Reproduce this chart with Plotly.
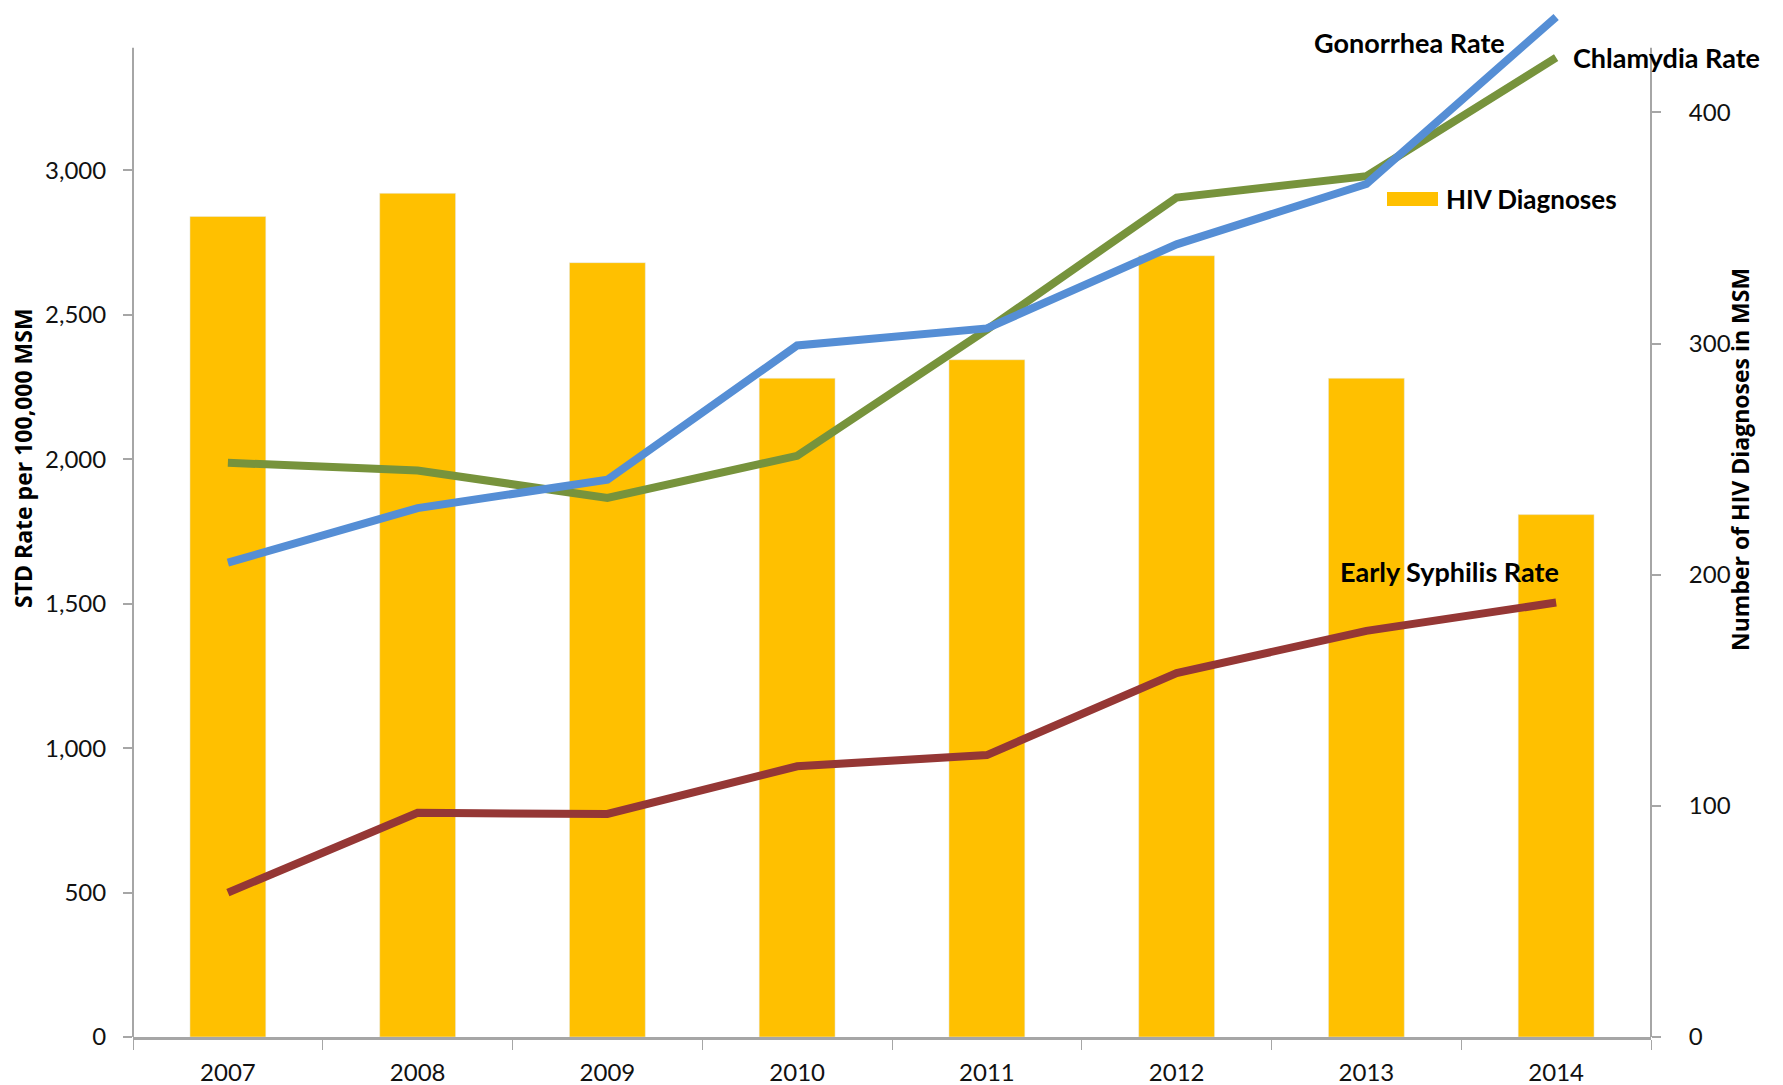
import plotly.graph_objects as go

years = ["2007", "2008", "2009", "2010", "2011", "2012", "2013", "2014"]
hiv_diagnoses = [355, 365, 335, 285, 293, 338, 285, 226]
gonorrhea_rate = [1642, 1831, 1929, 2394, 2453, 2744, 2953, 3531]
chlamydia_rate = [1988, 1961, 1866, 2012, 2449, 2906, 2980, 3390]
syphilis_rate = [500, 776, 772, 937, 976, 1260, 1406, 1504]

W, H = 1783, 1085
# plot area in page pixels
PL, PR, PT, PB = 133, 1651, 5, 1037
L, R, T, B = PL, W - PR, PT, H - PB
PW, PH = PR - PL, PB - PT


def px(x):
    return (x - PL) / PW


def py(y):
    return (PB - y) / PH


fig = go.Figure()
fig.add_trace(go.Bar(x=years, y=hiv_diagnoses, marker_color="#FFC000", width=0.4,
                     yaxis="y", name="HIV Diagnoses"))
for vals, col, nm in [(syphilis_rate, "#953735", "Early Syphilis Rate"),
                      (chlamydia_rate, "#77933C", "Chlamydia Rate"),
                      (gonorrhea_rate, "#558ED5", "Gonorrhea Rate")]:
    fig.add_trace(go.Scatter(x=years, y=vals, mode="lines", yaxis="y2", name=nm,
                             line=dict(color=col, width=8)))

tickfont = dict(family="Lato", size=24, color="#111111")
fig.update_layout(
    width=W, height=H,
    margin=dict(l=L, r=R, t=T, b=B, autoexpand=False),
    paper_bgcolor="white", plot_bgcolor="white",
    showlegend=False,
    bargap=0.6,
    xaxis=dict(type="category", range=[-0.5, 7.5], showgrid=False, showline=True,
               linecolor="#A6A6A6", linewidth=3, ticks="outside", tickson="boundaries",
               ticklen=10, tickcolor="#A6A6A6", tickfont=tickfont, ticklabelstandoff=12,
               automargin=False),
    yaxis=dict(side="right", range=[0, PH / 2.3115], tickvals=[0, 100, 200, 300, 400],
               showgrid=False, zeroline=False, showline=False, ticks="outside",
               ticklen=9, tickcolor="#A6A6A6", tickwidth=2, tickfont=tickfont,
               ticklabelstandoff=23, automargin=False),
    yaxis2=dict(overlaying="y", side="left", range=[0, PH / 0.28887],
                tickvals=[0, 500, 1000, 1500, 2000, 2500, 3000], tickformat=",",
                showgrid=False, zeroline=False, showline=False, ticks="outside",
                ticklen=9, tickcolor="#A6A6A6", tickwidth=2, tickfont=tickfont,
                ticklabelstandoff=12, automargin=False),
)

axis_top = py(47.8)
fig.add_shape(type="line", xref="paper", yref="paper", x0=0, x1=0, y0=0, y1=axis_top,
              line=dict(color="#A6A6A6", width=2))
fig.add_shape(type="line", xref="paper", yref="paper", x0=1, x1=1, y0=0, y1=axis_top,
              line=dict(color="#A6A6A6", width=2))
fig.add_shape(type="rect", xref="paper", yref="paper", x0=px(1387), x1=px(1438),
              y0=py(206), y1=py(192), fillcolor="#FFC000", line=dict(width=0))

labfont = dict(family="Lato", size=27, color="#000000")
fig.add_annotation(xref="paper", yref="paper", x=px(1507), y=py(43), xanchor="right",
                   yanchor="middle", text="<b>Gonorrhea Rate</b>", showarrow=False, font=labfont)
fig.add_annotation(xref="paper", yref="paper", x=px(1571), y=py(58), xanchor="left",
                   yanchor="middle", text="<b>Chlamydia Rate</b>", showarrow=False, font=labfont)
fig.add_annotation(xref="paper", yref="paper", x=px(1444), y=py(199), xanchor="left",
                   yanchor="middle", text="<b>HIV Diagnoses</b>", showarrow=False,
                   font=dict(family="Lato", size=26, color="#000000"))
fig.add_annotation(xref="paper", yref="paper", x=px(1561), y=py(571), xanchor="right",
                   yanchor="middle", text="<b>Early Syphilis Rate</b>", showarrow=False, font=labfont)

titlefont = dict(family="Open Sans", size=23, color="#000000")
fig.add_annotation(xref="paper", yref="paper", x=px(23), y=py(458), xanchor="center",
                   yanchor="middle", text="<b>STD Rate per 100,000 MSM</b>", textangle=-90,
                   showarrow=False, font=titlefont)
fig.add_annotation(xref="paper", yref="paper", x=px(1740), y=py(460), xanchor="center",
                   yanchor="middle", text="<b>Number of HIV Diagnoses in MSM</b>", textangle=-90,
                   showarrow=False, font=titlefont)

fig.write_html(
    "out.html",
    config={"displayModeBar": False},
    post_script="document.body.style.margin='0';document.body.style.overflow='hidden';",
)
